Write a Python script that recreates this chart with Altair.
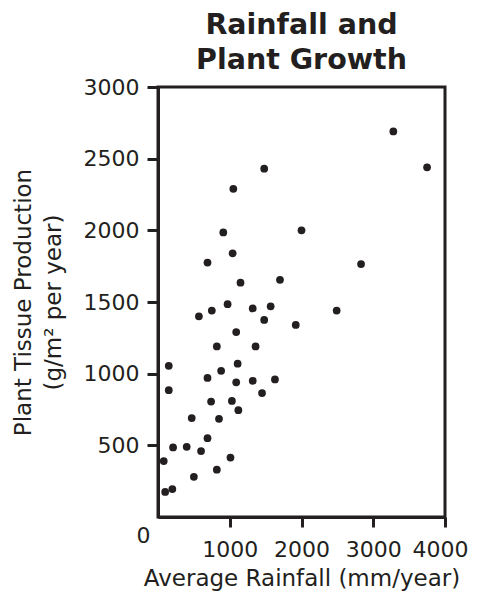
import altair as alt
import pandas as pd

rainfall = [3280, 3750, 1480, 1050, 910, 2000, 1040, 690, 2830, 1150, 1700, 970,
            750, 570, 1320, 1570, 2490, 1480, 1920, 1090, 820, 1360, 150, 1110,
            880, 690, 1090, 1320, 1630, 150, 1450, 740, 1030, 1120, 470, 850,
            690, 210, 400, 600, 80, 1010, 820, 500, 100, 200]
production = [2690, 2440, 2430, 2290, 1985, 2000, 1840, 1775, 1765, 1635, 1655, 1485,
              1440, 1400, 1455, 1470, 1440, 1375, 1340, 1290, 1190, 1190, 1055, 1070,
              1020, 970, 940, 950, 960, 885, 865, 805, 810, 745, 690, 685,
              550, 485, 490, 460, 390, 415, 330, 280, 175, 195]

y_ticks = [0, 500, 1000, 1500, 2000, 2500, 3000]
x_ticks = [1000, 2000, 3000, 4000]

df = pd.DataFrame({"rain": rainfall, "prod": production})

INK = "#231f20"
FONT = "DejaVu Sans"

is_zero = "datum.value == 0"
is_last = "datum.value == 4000"

chart = alt.Chart(df).mark_circle(size=60, color=INK, opacity=1).encode(
    x=alt.X("rain:Q",
            scale=alt.Scale(domain=[0, 4000], nice=False, zero=True),
            axis=alt.Axis(values=x_ticks, format="d", grid=False, tickSize=10, tickWidth=3,
                          tickColor=INK, domainColor=INK, domainWidth=3,
                          labelFont=FONT, labelFontSize=22, labelColor=INK,
                          labelOffset={"condition": {"test": is_last, "value": -5}, "value": 0},
                          labelPadding=12, labelFlush=False, labelOverlap=False,
                          title="Average Rainfall (mm/year)", titleFont=FONT,
                          titleFontSize=23, titleFontWeight="normal", titleColor=INK,
                          titleBaseline="alphabetic", titleX=143.5, titleY=68.5)),
    y=alt.Y("prod:Q",
            scale=alt.Scale(domain=[0, 3000], nice=False),
            axis=alt.Axis(values=y_ticks, format="d", grid=False, tickSize=11, tickWidth=3,
                          tickColor=INK, domainColor=INK, domainWidth=3,
                          tickOpacity={"condition": {"test": is_zero, "value": 0}, "value": 1},
                          labelFont=FONT, labelFontSize=22, labelColor=INK,
                          labelPadding={"condition": {"test": is_zero, "value": -3}, "value": 8},
                          labelOffset={"condition": {"test": is_zero, "value": 18}, "value": 0},
                          labelFlush=False, labelOverlap=False,
                          title=["Plant Tissue Production", "(g/m\u00b2 per year)"],
                          titleFont=FONT, titleFontSize=23, titleFontWeight="normal",
                          titleColor=INK, titleBaseline="alphabetic", titleLineHeight=30,
                          titleAngle=270, titleX=-128, titleY=215)),
).properties(
    width=287,
    height=430,
    title=alt.TitleParams(["Rainfall and", "Plant Growth"], font=FONT, fontSize=28.5,
                          fontWeight="bold", color=INK, anchor="middle",
                          lineHeight=35, offset=2),
    autosize=alt.AutoSizeParams(type="none"),
    padding={"left": 150, "top": 79, "right": 24, "bottom": 75},
).configure_view(stroke=INK, strokeWidth=3)

chart.save("out.html", embed_options={"renderer": "svg", "actions": False})
